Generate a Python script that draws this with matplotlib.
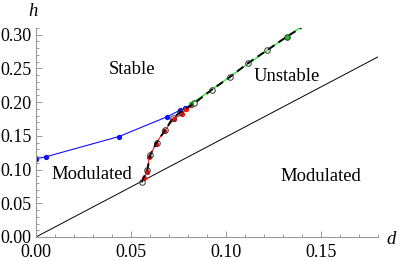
import matplotlib
matplotlib.use("Agg")
import matplotlib.pyplot as plt
from matplotlib.ticker import MultipleLocator

# boundary line h ~ d
diag_d = [0.0, 0.18]
diag_h = [0.0, 0.267]

# blue branch
blue_d = [0.0, 0.0053, 0.0437, 0.0688, 0.0758, 0.0785, 0.0815]
blue_h = [0.116, 0.119, 0.149, 0.178, 0.188, 0.191, 0.196]

# red branch
red_d = [0.0568, 0.0586, 0.0596, 0.0630, 0.0675, 0.0725, 0.0768, 0.0790, 0.0815]
red_h = [0.087, 0.097, 0.118, 0.138, 0.157, 0.175, 0.182, 0.190, 0.195]

# green branch
green_d = [0.0815, 0.132, 0.140]
green_h = [0.197, 0.297, 0.312]
green_pts_d = [0.0815, 0.132]
green_pts_h = [0.197, 0.297]

# dashed black curve with open circles
circ_d = [0.0556, 0.0586, 0.0602, 0.0635, 0.0679, 0.0719, 0.0760,
          0.0832, 0.0924, 0.102, 0.1117, 0.1217, 0.132]
circ_h = [0.081, 0.100, 0.122, 0.140, 0.158, 0.176, 0.185,
          0.198, 0.218, 0.237, 0.258, 0.277, 0.297]
dash_end_d = 0.1405
dash_end_h = 0.312

plt.rcParams['font.family'] = 'Liberation Serif'

fig = plt.figure(figsize=(3.99, 2.61), dpi=100)
ax = fig.add_axes([0.0902, 0.092, 0.857, 0.801])

ax.plot(diag_d, diag_h, color='black', lw=0.7)
ax.plot(blue_d, blue_h, color='#1010ff', lw=0.8, marker='o', ms=2.8)
ax.plot(red_d, red_h, color='#ff1010', lw=0.8, marker='o', ms=2.8)
ax.plot(green_d, green_h, color='#33ee33', lw=1.0)
ax.plot(green_pts_d, green_pts_h, 'o', color='#22bb22', ms=2.8)
ax.plot(circ_d + [dash_end_d], circ_h + [dash_end_h], color='black', lw=1.4,
        ls=(0, (4, 2.5)))
ax.plot(circ_d, circ_h, 'o', mfc='none', mec='#333333', ms=4, mew=0.7)

ax.text(0.0504, 0.248, 'Stable', fontsize=13.4, ha='center', va='center')
ax.text(0.0293, 0.092, 'Modulated', fontsize=13.4, ha='center', va='center')
ax.text(0.132, 0.238, 'Unstable', fontsize=13.4, ha='center', va='center')
ax.text(0.150, 0.0895, 'Modulated', fontsize=13.4, ha='center', va='center')

ax.set_xlim(0, 0.18)
ax.set_ylim(0, 0.31)
ax.xaxis.set_major_locator(MultipleLocator(0.05))
ax.xaxis.set_minor_locator(MultipleLocator(0.01))
ax.yaxis.set_major_locator(MultipleLocator(0.05))
ax.yaxis.set_minor_locator(MultipleLocator(0.01))
ax.xaxis.set_major_formatter(plt.FormatStrFormatter('%.2f'))
ax.yaxis.set_major_formatter(plt.FormatStrFormatter('%.2f'))

for s in ['top', 'right']:
    ax.spines[s].set_visible(False)
for s in ['left', 'bottom']:
    ax.spines[s].set_color('#999999')
    ax.spines[s].set_linewidth(0.8)
ax.tick_params(which='both', direction='in', color='#999999', labelsize=13,
               width=0.7)
ax.tick_params(axis='x', pad=5)
ax.tick_params(axis='y', pad=3)
ax.tick_params(which='major', length=4)
ax.tick_params(which='minor', length=2)

fig.text(33 / 399, 1 - 12 / 261, 'h', fontsize=13.4, style='italic',
         ha='center', va='center')
fig.text(391 / 399, 1 - 240 / 261, 'd', fontsize=13.4, style='italic',
         ha='center', va='center')

fig.savefig('out.png', dpi=100)
